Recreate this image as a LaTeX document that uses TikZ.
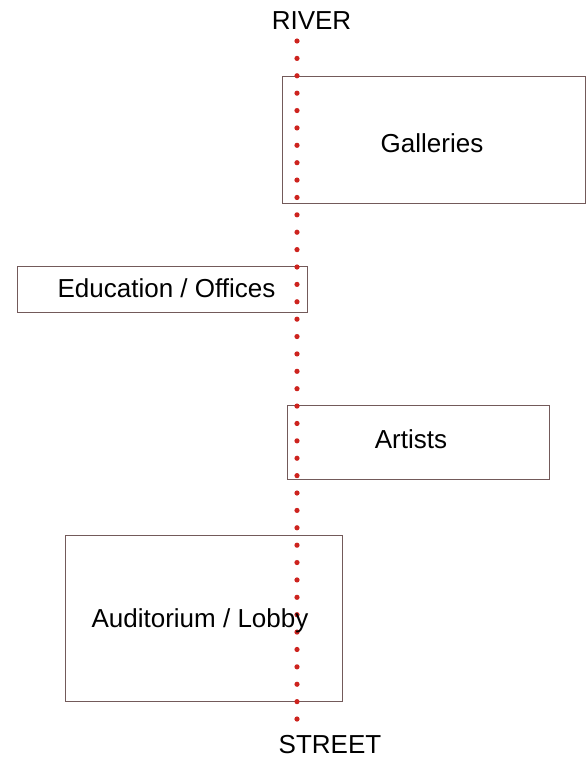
\documentclass[tikz,border=0pt]{standalone}
\usepackage{fontspec}
\setmainfont{Liberation Sans}
\definecolor{boxcol}{RGB}{115,90,90}
\definecolor{dotred}{RGB}{205,35,30}
\begin{document}
\begin{tikzpicture}[x=1pt,y=-1pt,
  zone/.style={draw=boxcol, line width=0.8pt, inner sep=0pt, fill=none},
  txt/.style={font=\fontsize{26}{30}\selectfont, inner sep=0pt, anchor=base, text=black},
  reddot/.style={fill=dotred}]
\useasboundingbox (0,0) rectangle (586,763);
% boxes
\node[zone, minimum width=303pt, minimum height=127pt] (galbox) at (433.5,139.5) {};
\node[zone, minimum width=290pt, minimum height=46pt] (edubox) at (162,289) {};
\node[zone, minimum width=262pt, minimum height=74pt] (artbox) at (418,442) {};
\node[zone, minimum width=277pt, minimum height=166pt] (audbox) at (203.5,618) {};
% dotted axis
\foreach \i in {0,...,39}
  \fill[reddot] (297,41+\i*17.385) circle (2.6pt);
% labels
\node[txt] (river) at (311.5,29) {RIVER};
\node[txt] (gal) at (432,152) {Galleries};
\node[txt] (edu) at (166.5,297) {Education / Offices};
\node[txt] (art) at (411,448) {Artists};
\node[txt] (aud) at (200,627) {Auditorium / Lobby};
\node[txt] (street) at (330,753) {STREET};
\end{tikzpicture}
\end{document}
